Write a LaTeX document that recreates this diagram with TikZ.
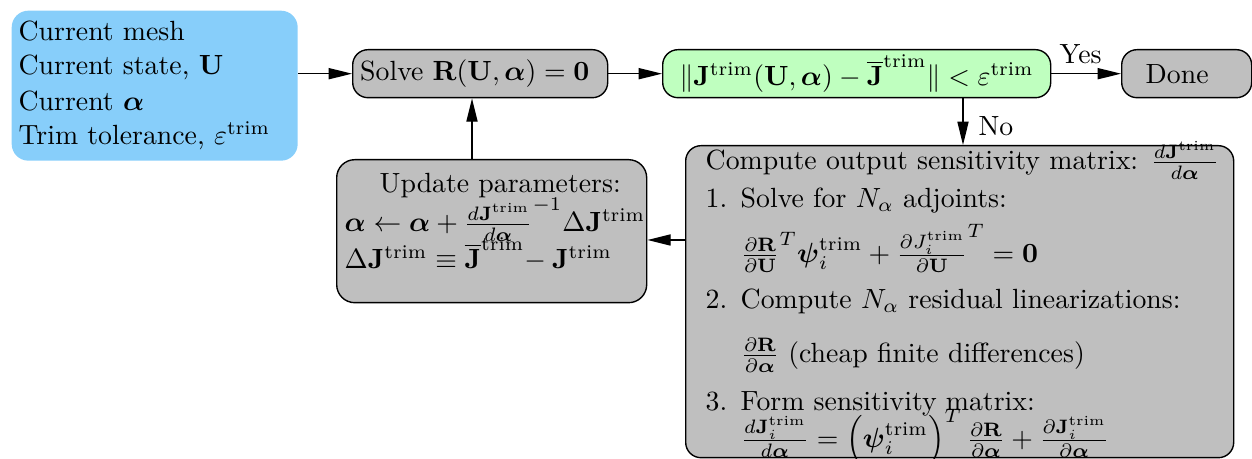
\documentclass[tikz,border=0pt]{standalone}
\usepackage{amsmath,amssymb}
\usetikzlibrary{arrows.meta}
\newdimen\pxu \pxu=0.36pt
\definecolor{initblue}{RGB}{135,206,250}
\definecolor{boxgray}{RGB}{191,191,191}
\definecolor{okgreen}{RGB}{191,255,191}
% width, height, left pad (all in px), content
\newcommand{\tbox}[4]{%
  \parbox[c][#2\pxu][t]{#1\pxu}{\raggedright\parindent=0pt\leftskip=#3\pxu
  \baselineskip=0pt\lineskip=0pt\lineskiplimit=-\maxdimen\hbox{}#4}}
\begin{document}
\begin{tikzpicture}[x=0.36pt,y=-0.36pt,
  box/.style={draw=black, line width=0.5pt, rounded corners=5.5pt, fill=boxgray,
    inner sep=0pt, anchor=north west},
  onebox/.style={box, minimum height=17.28pt},
  arr/.style={line width=0.5pt, -{Triangle[length=8.4pt,width=4pt]}},
  lbl/.style={inner sep=3.33pt}]
\useasboundingbox (0,0) rectangle (1252,459);

\node[box, draw=none, fill=initblue, rounded corners=6pt] (init) at (11,10)
  {\tbox{286}{150}{7}{\vskip30\pxu Current mesh\\[34\pxu]Current state, $\mathbf{U}$\\[36\pxu]Current $\boldsymbol{\alpha}$\\[34\pxu]Trim tolerance, $\varepsilon^{\text{trim}}$}};

\node[onebox] (solve) at (352,49)
  {\makebox[255\pxu][l]{\hspace{7.5\pxu}Solve $\mathbf{R}(\mathbf{U},\boldsymbol{\alpha})=\mathbf{0}$}};

\node[onebox, fill=okgreen] (green) at (662,49)
  {\makebox[388\pxu][c]{$\|\mathbf{J}^{\text{trim}}(\mathbf{U},\boldsymbol{\alpha})-\overline{\mathbf{J}}^{\text{trim}}\|<\varepsilon^{\text{trim}}$}};

\node[onebox] (done) at (1121,49)
  {\makebox[130\pxu][l]{\hspace{24\pxu}Done}};

\node[box, rounded corners=6.5pt] (update) at (336,159)
  {\tbox{310}{143}{8}{\vskip33\pxu\hspace*{35\pxu}Update parameters:\\[39\pxu]$\boldsymbol{\alpha}\leftarrow\boldsymbol{\alpha}+\frac{d\mathbf{J}^{\text{trim}}}{d\boldsymbol{\alpha}}^{-1}\Delta\mathbf{J}^{\text{trim}}$\\[37\pxu]$\Delta\mathbf{J}^{\text{trim}}\equiv\overline{\mathbf{J}}^{\text{trim}}\mkern-4mu-\mathbf{J}^{\text{trim}}$}};

\node[box] (compute) at (685,145)
  {\tbox{548}{312}{20}{\vskip24\pxu Compute output sensitivity matrix: $\frac{d\mathbf{J}^{\text{trim}}}{d\boldsymbol{\alpha}}$\\[38\pxu]\makebox[35\pxu][l]{1.}Solve for $N_\alpha$ adjoints:\\[55\pxu]\hspace*{35\pxu}$\frac{\partial\mathbf{R}}{\partial\mathbf{U}}^T\boldsymbol{\psi}_i^{\text{trim}}+\frac{\partial J_i^{\text{trim}}}{\partial\mathbf{U}}^T=\mathbf{0}$\\[46\pxu]\makebox[35\pxu][l]{2.}Compute $N_\alpha$ residual linearizations:\\[54\pxu]\hspace*{35\pxu}$\frac{\partial\mathbf{R}}{\partial\boldsymbol{\alpha}}$ (cheap finite differences)\\[48\pxu]\makebox[35\pxu][l]{3.}Form sensitivity matrix:\\[37\pxu]\hspace*{35\pxu}$\frac{d\mathbf{J}_i^{\text{trim}}}{d\boldsymbol{\alpha}}=\Bigl(\boldsymbol{\psi}_i^{\text{trim}}\Bigr)^T\,\frac{\partial\mathbf{R}}{\partial\boldsymbol{\alpha}}+\frac{\partial\mathbf{J}_i^{\text{trim}}}{\partial\boldsymbol{\alpha}}$}};

\coordinate (c1) at (472,130);
\coordinate (c2) at (666,240);
\coordinate (c3) at (963,120);

\draw[arr] (init.east |- solve.west) -- (solve.west);
\draw[arr] (solve.east) -- (green.west);
\draw[arr] (green.east) -- node[lbl, above, pos=0.42] (yes) {Yes} (done.west);
\draw[arr] (green.south -| c3) -- node[lbl, right, pos=0.6, xshift=2pt] (no) {No} (compute.north -| c3);
\draw[arr] (compute.west |- c2) -- (update.east |- c2);
\draw[arr] (update.north -| c1) -- (solve.south -| c1);
\end{tikzpicture}
\end{document}
